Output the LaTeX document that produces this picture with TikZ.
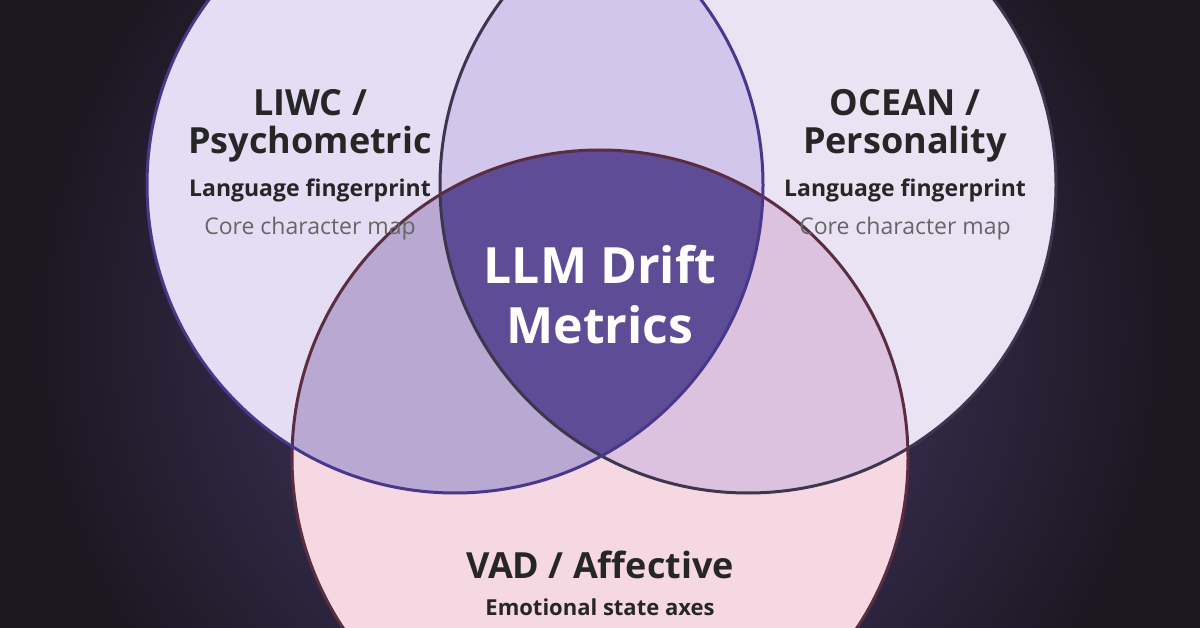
\documentclass[tikz,border=0pt]{standalone}
\usepackage{fontspec}
\setmainfont{Open Sans}
\begin{document}
\begin{tikzpicture}[x=1pt,y=-1pt,
  big/.style={font=\fontsize{36}{40}\selectfont\bfseries,text=black!85,align=center},
  sub/.style={font=\fontsize{23}{26}\selectfont\bfseries,text=black!85},
  note/.style={font=\fontsize{23}{26}\selectfont,text=black!60}]
\definecolor{bg}{HTML}{1C1822}
\definecolor{glow}{HTML}{50407A}
\definecolor{cl}{HTML}{E4DDF4}
\definecolor{cr}{HTML}{EAE3F4}
\definecolor{cb}{HTML}{F5D8E2}
\definecolor{olr}{HTML}{D2C6EC}
\definecolor{olb}{HTML}{B8A8D2}
\definecolor{orb}{HTML}{DDC2DF}
\definecolor{oall}{HTML}{5F4C96}
\useasboundingbox (0,0) rectangle (1200,628);
\fill[bg] (0,0) rectangle (1200,628);
\shade[inner color=glow,outer color=bg] (600,330) circle (560);
\coordinate (L) at (455,185);
\coordinate (R) at (748,185);
\coordinate (B) at (600,458);
\def\rr{308}
\fill[cl] (L) circle (\rr);
\fill[cr] (R) circle (\rr);
\fill[cb] (B) circle (\rr);
\begin{scope}\clip (L) circle (\rr); \fill[olr] (R) circle (\rr); \end{scope}
\begin{scope}\clip (L) circle (\rr); \fill[olb] (B) circle (\rr); \end{scope}
\begin{scope}\clip (R) circle (\rr); \fill[orb] (B) circle (\rr); \end{scope}
\begin{scope}\clip (L) circle (\rr); \clip (R) circle (\rr); \fill[oall] (B) circle (\rr); \end{scope}
\draw[line width=3pt,color={rgb,255:red,62;green,54;blue,78}] (R) circle (\rr);
\draw[line width=3pt,color={rgb,255:red,90;green,45;blue,65}] (B) circle (\rr);
\draw[line width=3pt,color={rgb,255:red,72;green,56;blue,140}] (L) circle (\rr);
\node[big] (lt) at (310,126) {LIWC /\\[-2pt]Psychometric};
\node[sub] (ls) at (310,190) {Language fingerprint};
\node[note] (ln) at (310,229) {Core character map};
\node[big] (rt) at (905,126) {OCEAN /\\[-2pt]Personality};
\node[sub] (rs) at (905,190) {Language fingerprint};
\node[note] (rn) at (905,229) {Core character map};
\node[font=\fontsize{50}{60}\selectfont\bfseries,text=white,align=center] (c) at (600,295) {LLM Drift\\Metrics};
\node[big] (bt) at (600,565) {VAD / Affective};
\node[sub,font=\fontsize{22}{25}\selectfont\bfseries] (bs) at (600,607) {Emotional state axes};
\end{tikzpicture}
\end{document}
